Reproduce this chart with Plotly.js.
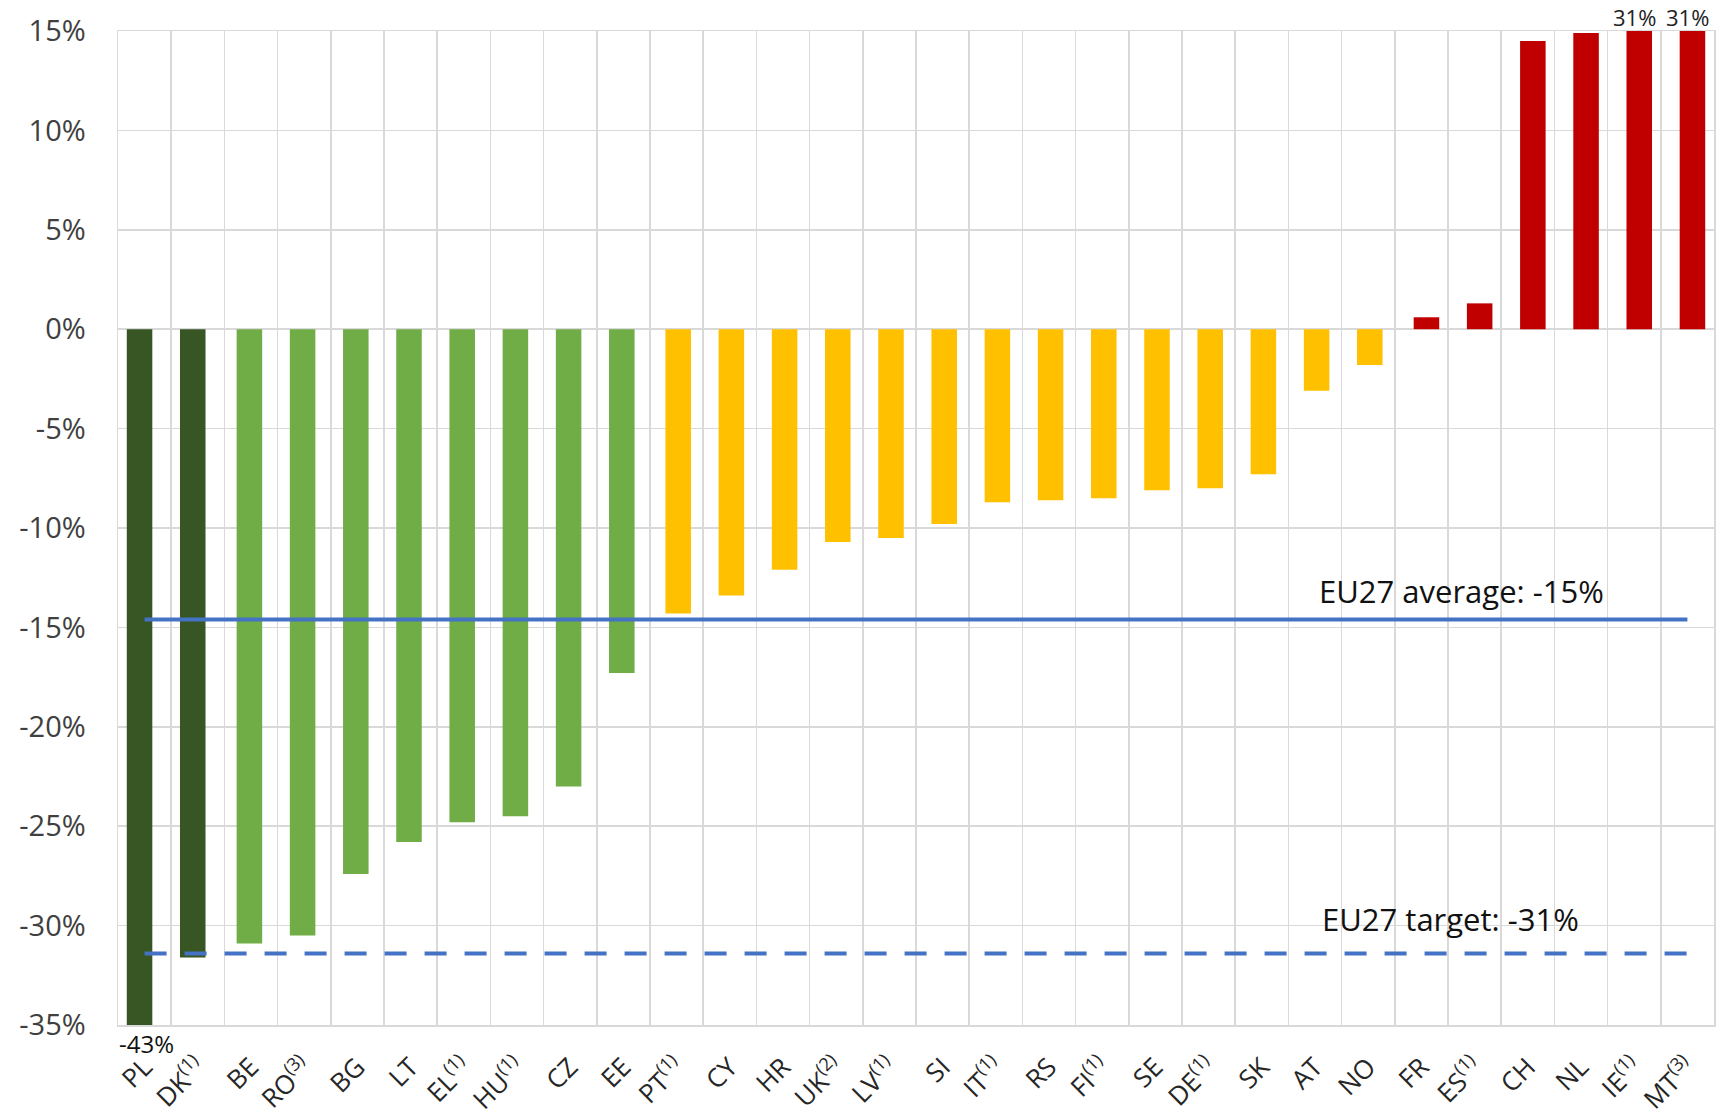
<!DOCTYPE html>
<html>
<head>
<meta charset="utf-8">
<script src="https://cdn.plot.ly/plotly-3.0.1.min.js"></script>
<style>
  html, body { margin: 0; padding: 0; background: #ffffff; }
  #chart { width: 1726px; height: 1115px; }
</style>
</head>
<body>
<div id="chart"></div>
<script>
// ---- Data ----
const countries = ["PL","DK","BE","RO","BG","LT","EL","HU","CZ","EE","PT","CY","HR","UK","LV","SI","IT","RS","FI","SE","DE","SK","AT","NO","FR","ES","CH","NL","IE","MT"];
const notes     = ["","(1)","","(3)","","","(1)","(1)","","","(1)","","","(2)","(1)","","(1)","","(1)","","(1)","","","","","(1)","","","(1)","(3)"];
const changes   = [-43,-31.6,-30.9,-30.5,-27.4,-25.8,-24.8,-24.5,-23.0,-17.3,-14.3,-13.4,-12.1,-10.7,-10.5,-9.8,-8.7,-8.6,-8.5,-8.1,-8.0,-7.3,-3.1,-1.8,0.6,1.3,14.5,14.9,31,31];
const groups    = ["dark","dark","green","green","green","green","green","green","green","green","yellow","yellow","yellow","yellow","yellow","yellow","yellow","yellow","yellow","yellow","yellow","yellow","yellow","yellow","red","red","red","red","red","red"];
const eu27Average = -14.6;
const eu27AverageLabel = "EU27 average: -15%";
const eu27Target = -31.4;
const eu27TargetLabel = "EU27 target: -31%";
const yTicks = [15,10,5,0,-5,-10,-15,-20,-25,-30,-35];
const yRange = [-35, 15];

// ---- Styles ----
const groupStyle = {
  dark:   {color: "#375623", offset: -0.335},
  green:  {color: "#70AD47", offset: -0.27},
  yellow: {color: "#FFC000", offset: -0.21},
  red:    {color: "#C00000", offset: -0.145}
};
const barWidth = 0.48;
const font = "Open Sans, Noto Sans, sans-serif";

const traces = Object.keys(groupStyle).map(g => ({
  type: "bar",
  x: countries,
  y: changes.map((v, i) => groups[i] === g ? v : null),
  width: barWidth,
  offset: groupStyle[g].offset,
  marker: {color: groupStyle[g].color, line: {width: 0}},
  hoverinfo: "x+y",
  showlegend: false
}));

traces.push({
  type: "scatter", mode: "lines",
  x: [countries[0], countries[countries.length - 1]],
  y: [eu27Average, eu27Average],
  line: {color: "#4472C4", width: 4},
  showlegend: false, hoverinfo: "skip"
});
traces.push({
  type: "scatter", mode: "lines",
  x: [countries[0], countries[countries.length - 1]],
  y: [eu27Target, eu27Target],
  line: {color: "#4472C4", width: 4, dash: "22px,18px"},
  showlegend: false, hoverinfo: "skip"
});

const annotations = [];
changes.forEach((v, i) => {
  if (v < yRange[0]) {
    annotations.push({x: countries[i], y: yRange[0], xref: "x", yref: "y", text: v + "%",
      showarrow: false, xanchor: "center", yanchor: "top", yshift: 0, xshift: 2,
      font: {family: font, size: 24, color: "#111111"}});
  } else if (v > yRange[1]) {
    annotations.push({x: countries[i], y: yRange[1], xref: "x", yref: "y", text: v + "%",
      showarrow: false, xanchor: "center", yanchor: "bottom", yshift: -3,
      font: {family: font, size: 22, color: "#222222"}});
  }
});
annotations.push({x: 0.8415, xref: "paper", y: eu27Average, yref: "y", text: eu27AverageLabel,
  showarrow: false, xanchor: "center", yanchor: "bottom", yshift: 5, font: {family: font, size: 31, color: "#111111"}});
annotations.push({x: 0.835, xref: "paper", y: eu27Target, yref: "y", text: eu27TargetLabel,
  showarrow: false, xanchor: "center", yanchor: "bottom", yshift: 11, font: {family: font, size: 31, color: "#111111"}});

const layout = {
  width: 1726, height: 1115,
  margin: {l: 118, r: 12, t: 31, b: 90},
  paper_bgcolor: "#ffffff", plot_bgcolor: "#ffffff",
  barmode: "overlay",
  showlegend: false,
  font: {family: font, color: "#404040"},
  xaxis: {
    type: "category",
    tickvals: countries,
    ticktext: countries.map((c, i) => notes[i] ? c + "<sup>" + notes[i] + "</sup>" : c),
    tickangle: -45,
    tickson: "boundaries",
    ticks: "",
    showgrid: true, gridcolor: "#d9d9d9", gridwidth: 1.5,
    showline: true, linecolor: "#d9d9d9", linewidth: 1.5, mirror: true,
    ticklabelstandoff: 15,
    tickfont: {family: font, size: 26, color: "#262626"},
    range: [-0.5, countries.length - 0.5],
    fixedrange: true
  },
  yaxis: {
    range: yRange,
    tickvals: yTicks,
    ticktext: yTicks.map(t => t + "%"),
    showgrid: true, gridcolor: "#d9d9d9", gridwidth: 1.5,
    zeroline: false,
    showline: true, linecolor: "#d9d9d9", linewidth: 1.5, mirror: true,
    ticks: "",
    ticklabelstandoff: 25,
    tickfont: {family: font, size: 29, color: "#404040"},
    fixedrange: true
  },
  annotations: annotations
};

Plotly.newPlot("chart", traces, layout, {displayModeBar: false, staticPlot: true});
</script>
</body>
</html>
